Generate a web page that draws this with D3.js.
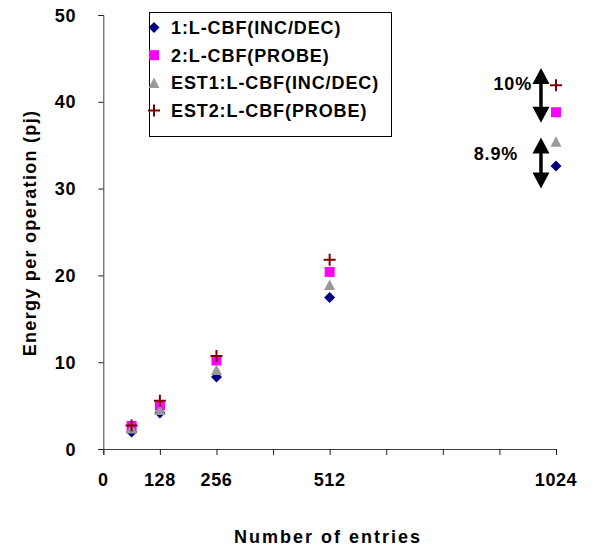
<!DOCTYPE html>
<html><head><meta charset="utf-8">
<script src="https://cdn.jsdelivr.net/npm/d3@7"></script>
<style>
body{margin:0;background:#fff;}
text{font-family:"Liberation Sans",Arial,sans-serif;font-weight:bold;fill:#000;}
</style></head>
<body><svg id="c" width="593" height="551"></svg>
<script>
// ---- data ----
const entries = [64, 128, 256, 512, 1024];
const s1_incdec = [1.95, 4.15, 8.3, 17.45, 32.6];
const s2_probe = [2.65, 5.0, 10.2, 20.4, 38.8];
const est1_incdec = [2.35, 4.5, 9.1, 18.9, 35.4];
const est2_probe = [2.7, 5.56, 10.7, 21.8, 41.9];
const seriesNames = ["1:L-CBF(INC/DEC)", "2:L-CBF(PROBE)", "EST1:L-CBF(INC/DEC)", "EST2:L-CBF(PROBE)"];
const xTicks = [0, 128, 256, 384, 512, 640, 768, 896, 1024];
const xTickLabels = [0, 128, 256, 512, 1024];
const yTicks = [0, 10, 20, 30, 40, 50];
const annotX = 990;
const annotRanges = [[43.9, 37.6], [35.9, 30.0]];
const annotLabels = ["10%", "8.9%"];

const series = [
  {name: seriesNames[0], values: s1_incdec, shape: "diamond", color: "#000080"},
  {name: seriesNames[1], values: s2_probe, shape: "square", color: "#FF00FF"},
  {name: seriesNames[2], values: est1_incdec, shape: "triangle", color: "#999999"},
  {name: seriesNames[3], values: est2_probe, shape: "plus", color: "#800000"}
];

const svg = d3.select("#c");
const x = d3.scaleLinear().domain([0, 1024]).range([103.3, 556]);
const y = d3.scaleLinear().domain([0, 50]).range([449, 15]);

function marker(g, shape, color){
  if(shape === "diamond"){
    g.append("path").attr("d", "M0,-5.5L5.5,0L0,5.5L-5.5,0Z").attr("fill", color);
  } else if(shape === "square"){
    g.append("rect").attr("x", -5).attr("y", -5).attr("width", 10).attr("height", 10).attr("fill", color);
  } else if(shape === "triangle"){
    g.append("path").attr("d", "M0,-5.5L5.5,5L-5.5,5Z").attr("fill", color);
  } else {
    g.append("path").attr("d", "M-6,0H6M0,-6V6").attr("stroke", color).attr("stroke-width", 2).attr("fill", "none");
  }
}

// axes
const xAxis = d3.axisBottom(x).tickValues(xTicks).tickSize(6).tickFormat("");
const gx = svg.append("g").attr("transform", `translate(0,${y(0)})`).call(xAxis);
gx.select(".domain").attr("stroke", "#404040");
gx.selectAll(".tick line").attr("stroke", "#202020");
svg.append("g").selectAll("text").data(xTickLabels).join("text")
  .attr("x", d => x(d)).attr("y", 486).attr("text-anchor", "middle")
  .style("font-size", "18px").style("letter-spacing", "0.6px").text(d => d);

const yAxis = d3.axisLeft(y).tickValues(yTicks).tickSize(5).tickFormat("");
const gy = svg.append("g").attr("transform", `translate(${x(0)},0)`).call(yAxis);
gy.select(".domain").attr("stroke", "#404040");
gy.selectAll(".tick line").attr("stroke", "#202020");
svg.append("g").selectAll("text").data(yTicks).join("text")
  .attr("x", 76).attr("y", d => y(d) + 6.5).attr("text-anchor", "end")
  .style("font-size", "18px").style("letter-spacing", "0.6px").text(d => d);

// axis titles
svg.append("text").attr("x", 328).attr("y", 543).attr("text-anchor", "middle")
  .style("font-size", "18px").style("letter-spacing", "2px").text("Number of entries");
svg.append("text").attr("transform", "translate(36,233) rotate(-90)").attr("text-anchor", "middle")
  .style("font-size", "18px").style("letter-spacing", "1.3px").text("Energy per operation (pj)");

// points
series.forEach(s => {
  s.values.forEach((v, i) => {
    const g = svg.append("g").attr("transform", `translate(${x(entries[i])},${y(v)})`);
    marker(g, s.shape, s.color);
  });
});

// legend
const lg = svg.append("g");
lg.append("rect").attr("x", 149.5).attr("y", 12.5).attr("width", 242).attr("height", 124)
  .attr("fill", "#fff").attr("stroke", "#000").attr("stroke-width", 1);
series.forEach((s, i) => {
  const cy = 27.5 + i * 27.7;
  const g = lg.append("g").attr("transform", `translate(154,${cy})`);
  marker(g, s.shape, s.color);
  lg.append("text").attr("x", 171).attr("y", cy + 6.5).style("font-size", "18px").style("letter-spacing", "0.9px").text(s.name);
});

// annotation arrows
annotRanges.forEach((r, i) => {
  const ax = x(annotX);
  const yt = y(r[0]), yb = y(r[1]);
  const hw = 8.5, hh = 16;
  svg.append("line").attr("x1", ax).attr("x2", ax).attr("y1", yt + hh - 1).attr("y2", yb - hh + 1)
    .attr("stroke", "#000").attr("stroke-width", 3.5);
  svg.append("path").attr("d", `M${ax},${yt}L${ax + hw},${yt + hh}L${ax - hw},${yt + hh}Z`).attr("fill", "#000");
  svg.append("path").attr("d", `M${ax},${yb}L${ax + hw},${yb - hh}L${ax - hw},${yb - hh}Z`).attr("fill", "#000");
});
svg.append("text").attr("x", 532).attr("y", 89.5).attr("text-anchor", "end")
  .style("font-size", "18px").style("letter-spacing", "0.8px").text(annotLabels[0]);
svg.append("text").attr("x", 518).attr("y", 159.5).attr("text-anchor", "end")
  .style("font-size", "18px").style("letter-spacing", "0.8px").text(annotLabels[1]);
</script></body></html>
